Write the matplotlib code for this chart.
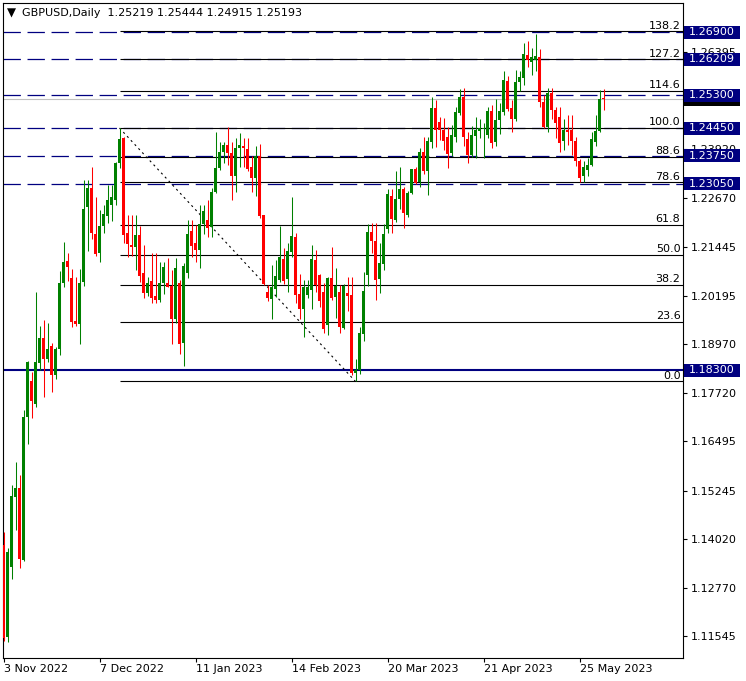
import matplotlib
matplotlib.use("Agg")
import matplotlib.pyplot as plt
from matplotlib.patches import Rectangle

# GBPUSD daily candles, 3 Nov 2022 .. 2 Jun 2023
opens = [1.1386, 1.1152, 1.1330, 1.1509, 1.1531, 1.1348, 1.1711, 1.1804, 1.1745, 1.1850,
         1.1912, 1.1859, 1.1892, 1.1819, 1.1884, 1.2051, 1.2108, 1.2065, 1.1956, 1.1949,
         1.2056, 1.2246, 1.2293, 1.2177, 1.2128, 1.2197, 1.2222, 1.2250, 1.2262, 1.2356,
         1.2420, 1.2180, 1.2148, 1.2145, 1.2174, 1.2078, 1.2028, 1.2057, 1.2018, 1.2010,
         1.2053, 1.2053, 1.2045, 1.1962, 1.2053, 1.1901, 1.2077, 1.2185, 1.2155, 1.2136,
         1.2201, 1.2212, 1.2195, 1.2283, 1.2344, 1.2384, 1.2403, 1.2383, 1.2324, 1.2396,
         1.2401, 1.2393, 1.2346, 1.2320, 1.2376, 1.2225, 1.2030, 1.2012, 1.2037, 1.2060,
         1.2113, 1.2062, 1.2130, 1.2170, 1.2024, 1.1986, 1.2022, 1.2034, 1.2111, 1.2073,
         1.2030, 1.1946, 1.2064, 1.2016, 1.2030, 1.1939, 1.2028, 1.2022, 1.1823, 1.1831,
         1.1922, 1.2072, 1.2183, 1.2160, 1.2062, 1.2100, 1.2190, 1.2273, 1.2212, 1.2266,
         1.2291, 1.2225, 1.2281, 1.2341, 1.2310, 1.2386, 1.2336, 1.2410, 1.2498, 1.2462,
         1.2441, 1.2424, 1.2382, 1.2424, 1.2484, 1.2526, 1.2417, 1.2378, 1.2426, 1.2439,
         1.2443, 1.2429, 1.2489, 1.2410, 1.2466, 1.2486, 1.2566, 1.2497, 1.2469, 1.2564,
         1.2572, 1.2632, 1.2613, 1.2618, 1.2626, 1.2513, 1.2449, 1.2534, 1.2492, 1.2475,
         1.2412, 1.2440, 1.2440, 1.2414, 1.2363, 1.2324, 1.2339, 1.2351, 1.2411, 1.2438,
         1.25219]
highs = [1.1420, 1.1378, 1.1539, 1.1597, 1.1564, 1.1730, 1.1855, 1.1827, 1.2029, 1.1943,
         1.1958, 1.1951, 1.1900, 1.1890, 1.2084, 1.2156, 1.2129, 1.2089, 1.2067, 1.2089,
         1.2314, 1.2314, 1.2348, 1.2272, 1.2238, 1.2250, 1.2302, 1.2302, 1.2361, 1.2446,
         1.2424, 1.2225, 1.2225, 1.2225, 1.2196, 1.2149, 1.2068, 1.2128, 1.2128, 1.2106,
         1.2106, 1.2115, 1.2085, 1.2115, 1.2060, 1.2104, 1.2212, 1.2212, 1.2200, 1.2250,
         1.2250, 1.2263, 1.2293, 1.2437, 1.2411, 1.2411, 1.2448, 1.2411, 1.2420, 1.2433,
         1.2420, 1.2420, 1.2376, 1.2400, 1.2406, 1.2225, 1.2047, 1.2098, 1.2111, 1.2197,
         1.2140, 1.2155, 1.2270, 1.2180, 1.2075, 1.2060, 1.2060, 1.2149, 1.2136, 1.2075,
         1.2052, 1.2068, 1.2145, 1.2090, 1.2047, 1.2050, 1.2067, 1.2067, 1.1858, 1.1941,
         1.2080, 1.2202, 1.2205, 1.2205, 1.2153, 1.2202, 1.2290, 1.2290, 1.2338, 1.2346,
         1.2295, 1.2285, 1.2341, 1.2346, 1.2395, 1.2423, 1.2423, 1.2525, 1.2517, 1.2475,
         1.2471, 1.2449, 1.2454, 1.2500, 1.2546, 1.2549, 1.2437, 1.2450, 1.2475, 1.2468,
         1.2460, 1.2500, 1.2505, 1.2519, 1.2510, 1.2590, 1.2578, 1.2517, 1.2593, 1.2590,
         1.2661, 1.2667, 1.2650, 1.2685, 1.2646, 1.2530, 1.2549, 1.2549, 1.2500, 1.2500,
         1.2470, 1.2479, 1.2478, 1.2424, 1.2368, 1.2363, 1.2369, 1.2437, 1.2479, 1.2544,
         1.25444]
lows = [1.1143, 1.1141, 1.1300, 1.1425, 1.1329, 1.1346, 1.1644, 1.1708, 1.1738, 1.1831,
        1.1763, 1.1852, 1.1776, 1.1809, 1.1870, 1.2041, 1.2058, 1.1940, 1.1943, 1.1897,
        1.2045, 1.2134, 1.2163, 1.2120, 1.2106, 1.2180, 1.2204, 1.2210, 1.2250, 1.2344,
        1.2155, 1.2119, 1.2120, 1.2085, 1.2056, 1.2013, 1.2018, 1.2002, 1.2001, 1.2005,
        1.2024, 1.2041, 1.1897, 1.1950, 1.1872, 1.1841, 1.2064, 1.2119, 1.2106, 1.2090,
        1.2178, 1.2170, 1.2170, 1.2280, 1.2339, 1.2357, 1.2352, 1.2263, 1.2284, 1.2348,
        1.2348, 1.2338, 1.2284, 1.2274, 1.2218, 1.2046, 1.2006, 1.1960, 1.2016, 1.2056,
        1.2050, 1.2030, 1.2118, 1.2001, 1.1962, 1.1915, 1.2013, 1.1985, 1.2029, 1.1991,
        1.1925, 1.1920, 1.2008, 1.1963, 1.1924, 1.1935, 1.1982, 1.1819, 1.1802, 1.1820,
        1.1906, 1.2045, 1.2128, 1.2009, 1.2026, 1.2085, 1.2180, 1.2179, 1.2208, 1.2240,
        1.2191, 1.2221, 1.2278, 1.2305, 1.2296, 1.2330, 1.2275, 1.2395, 1.2399, 1.2416,
        1.2390, 1.2344, 1.2375, 1.2410, 1.2478, 1.2401, 1.2356, 1.2373, 1.2369, 1.2420,
        1.2369, 1.2420, 1.2395, 1.2400, 1.2430, 1.2478, 1.2490, 1.2437, 1.2465, 1.2540,
        1.2555, 1.2600, 1.2581, 1.2590, 1.2500, 1.2445, 1.2436, 1.2470, 1.2420, 1.2386,
        1.2390, 1.2403, 1.2378, 1.2350, 1.2310, 1.2310, 1.2325, 1.2349, 1.2400, 1.2436,
        1.24915]
closes = [1.1150, 1.1369, 1.1511, 1.1531, 1.1351, 1.1711, 1.1851, 1.1753, 1.1851, 1.1912,
          1.1860, 1.1885, 1.1819, 1.1885, 1.2051, 1.2106, 1.2092, 1.1953, 1.1949, 1.2053,
          1.2240, 1.2294, 1.2179, 1.2126, 1.2197, 1.2228, 1.2263, 1.2270, 1.2358, 1.2419,
          1.2174, 1.2151, 1.2145, 1.2174, 1.2071, 1.2028, 1.2053, 1.2015, 1.2010, 1.2053,
          1.2094, 1.2043, 1.1961, 1.2090, 1.1897, 1.2096, 1.2177, 1.2147, 1.2136, 1.2202,
          1.2235, 1.2191, 1.2284, 1.2344, 1.2386, 1.2403, 1.2382, 1.2324, 1.2396, 1.2404,
          1.2395, 1.2342, 1.2320, 1.2376, 1.2223, 1.2050, 1.2015, 1.2041, 1.2070, 1.2118,
          1.2057, 1.2134, 1.2172, 1.2023, 1.1986, 1.2043, 1.2041, 1.2113, 1.2046, 1.2006,
          1.1935, 1.2066, 1.2013, 1.2045, 1.1940, 1.2045, 1.2018, 1.1823, 1.1831, 1.1924,
          1.2033, 1.2183, 1.2158, 1.2059, 1.2104, 1.2177, 1.2279, 1.2214, 1.2266, 1.2291,
          1.2231, 1.2281, 1.2341, 1.2307, 1.2386, 1.2336, 1.2412, 1.2498, 1.2440, 1.2440,
          1.2414, 1.2380, 1.2428, 1.2488, 1.2526, 1.2423, 1.2378, 1.2428, 1.2441, 1.2447,
          1.2446, 1.2489, 1.2407, 1.2466, 1.2490, 1.2568, 1.2494, 1.2469, 1.2564, 1.2577,
          1.2634, 1.2619, 1.2626, 1.2628, 1.2513, 1.2449, 1.2534, 1.2492, 1.2460, 1.2409,
          1.2440, 1.2436, 1.2413, 1.2363, 1.2318, 1.2346, 1.2352, 1.2417, 1.2438, 1.2519,
          1.25193]

date_ticks = [0, 24, 48, 72, 96, 120, 144]
date_labels = ["3 Nov 2022", "7 Dec 2022", "11 Jan 2023", "14 Feb 2023",
               "20 Mar 2023", "21 Apr 2023", "25 May 2023"]
price_ticks = [1.11545, 1.12770, 1.14020, 1.15245, 1.16495, 1.17720, 1.18970,
               1.20195, 1.21445, 1.22670, 1.23920, 1.25145, 1.26395]
hidden_ticks = [1.25145]  # covered by the price boxes in the original
level_lines = [1.26900, 1.26209, 1.25300, 1.24450, 1.23750, 1.23050]
support_line = 1.18300
fib_start, fib_end = 29, 88
fib_high, fib_low = 1.2446, 1.1802
fib_levels = [0.0, 23.6, 38.2, 50.0, 61.8, 78.6, 88.6, 100.0, 114.6, 127.2, 138.2]
last_price = 1.25193
title = "GBPUSD,Daily  1.25219 1.25444 1.24915 1.25193"

NAVY = "#000080"
UP = "#008000"
DOWN = "#ff0000"
PX = 1 / 3935.0  # one pixel in price units

plt.rcParams["lines.scale_dashes"] = False
plt.rcParams["font.size"] = 8

fig = plt.figure(figsize=(7.46, 6.81), dpi=100)
ax = fig.add_axes([2.5 / 746, (681 - 657.5) / 681, 680 / 746, 655 / 681])
ax.set_xlim(-0.25, 169.75)
ax.set_ylim(1.11005, 1.27651)

# bid line
ax.axhline(last_price, color="#c0c0c0", lw=0.8, zorder=1)

# horizontal levels
for lv in level_lines:
    ax.axhline(lv, color=NAVY, lw=0.9, linestyle=(0, (12.5, 4.8)), zorder=1.5)
ax.axhline(support_line, color=NAVY, lw=1.5, zorder=1.6)

# fibonacci retracement
fib_rng = fib_high - fib_low
x_end = ax.get_xlim()[1]
for f in fib_levels:
    p = fib_low + f / 100 * fib_rng
    ax.plot([fib_start, x_end], [p, p], color="black", lw=0.8, zorder=1.8,
            solid_capstyle="butt")
    ax.text(0.997, p + 0.6 * PX, f"{f:.1f}", transform=ax.get_yaxis_transform(),
            ha="right", va="bottom", fontsize=8, zorder=5)
ax.plot([fib_start, fib_end], [fib_high, fib_low], color="black", lw=0.8,
        linestyle=(0, (1.5, 2.5)), zorder=1.9)

# candles
xs = list(range(len(opens)))
cols = [UP if c >= o else DOWN for o, c in zip(opens, closes)]
ax.vlines(xs, lows, highs, colors=cols, lw=0.75, zorder=3)
bottoms = [min(o, c) for o, c in zip(opens, closes)]
heights = [max(abs(c - o), PX) for o, c in zip(opens, closes)]
ax.bar(xs, heights, bottom=bottoms, width=0.75, color=cols, linewidth=0, zorder=3.1)

# axes styling
for sp in ax.spines.values():
    sp.set_linewidth(0.8)
ax.yaxis.tick_right()
ax.set_yticks(price_ticks)
ax.set_yticklabels(["" if t in hidden_ticks else f"{t:.5f}" for t in price_ticks])
ax.tick_params(axis="y", direction="out", length=3, width=0.8, pad=3, labelsize=8)
ax.set_xticks(date_ticks)
ax.set_xticklabels(date_labels, ha="left")
ax.tick_params(axis="x", direction="out", length=3, width=0.8, pad=2, labelsize=8)

# price boxes on the right scale (bid box first, level boxes drawn over it)
trans = ax.get_yaxis_transform()
box_x0, box_w = 1.0022, 0.0824
def price_box(p, fc, z, label=True):
    ax.add_patch(Rectangle((box_x0, p - 6.5 * PX), box_w, 13 * PX, transform=trans,
                           facecolor=fc, edgecolor="none", clip_on=False, zorder=z))
    if label:
        ax.text(1.0096, p, f"{p:.5f}", transform=trans, ha="left", va="center",
                color="white", fontsize=8, clip_on=False, zorder=z + 0.5)

price_box(last_price, "black", 8, label=False)
for lv in level_lines + [support_line]:
    price_box(lv, NAVY, 10)

# header
ax.text(0.0066, 0.984, "\u25bc", transform=ax.transAxes, fontsize=8.5, va="center", ha="left")
ax.text(0.028, 0.984, title, transform=ax.transAxes, fontsize=8, va="center", ha="left")

fig.savefig("out.png", dpi=100)
